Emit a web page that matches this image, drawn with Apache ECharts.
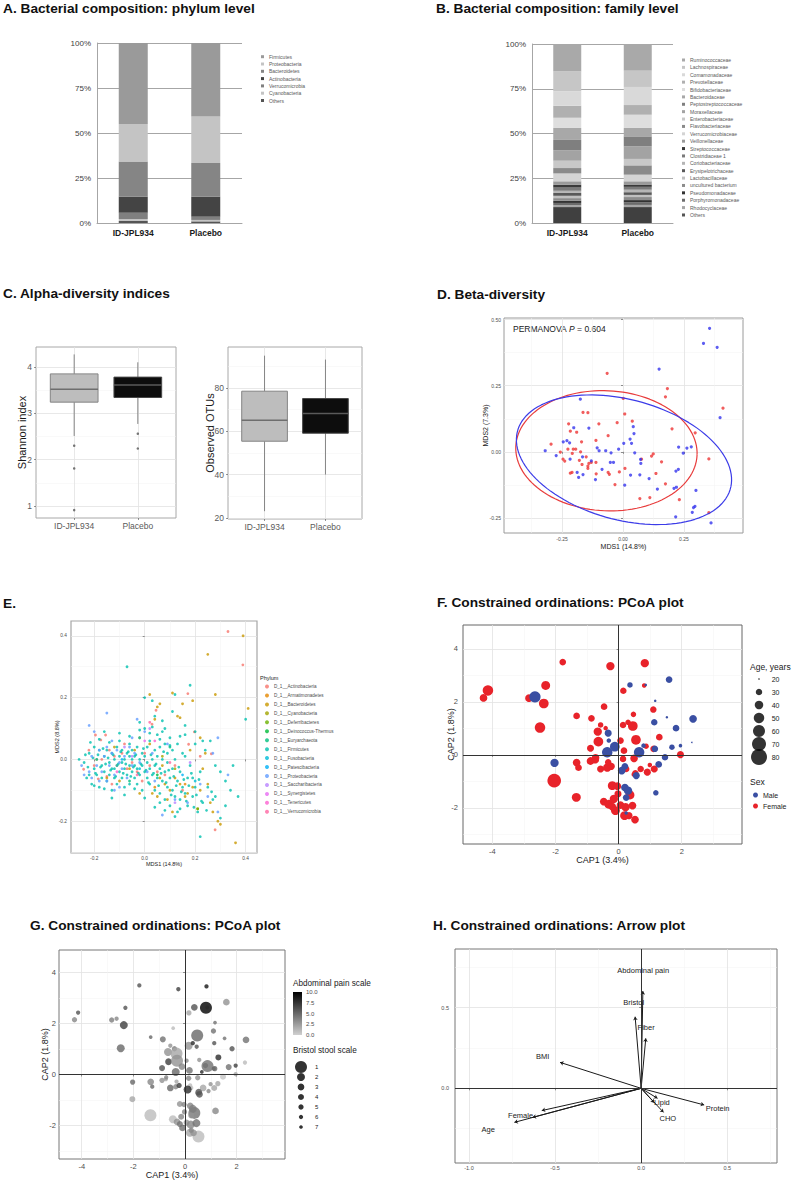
<!DOCTYPE html>
<html>
<head>
<meta charset="utf-8">
<title>Microbiome figure</title>
<script src="https://cdn.jsdelivr.net/npm/echarts@6.0.0/dist/echarts.min.js"></script>
<style>html,body{margin:0;padding:0;background:#fff;}#chart{width:796px;height:1181px;}</style>
</head>
<body>
<div id="chart"></div>
<script>
// ======================= DATA =======================
const groups = ['ID-JPL934', 'Placebo'];

// A. phylum composition (%), series listed bottom -> top of the stack
const phylumNames = ['Others','Cyanobacteria','Verrucomicrobia','Actinobacteria','Bacteroidetes','Proteobacteria','Firmicutes'];
const phylumID = [1.1, 1.1, 3.5, 8.9, 19.5, 20.9, 45.0];
const phylumPL = [0.9, 0.8, 1.8, 11.1, 18.7, 25.8, 40.9];

// B. family composition (%), bottom -> top
const familyNames = ['Others','Rhodocyclaceae','Porphyromonadaceae','Pseudomonadaceae','uncultured bacterium','Lactobacillaceae','Erysipelotrichaceae','Coriobacteriaceae','Clostridiaceae 1','Streptococcaceae','Veillonellaceae','Verrucomicrobiaceae','Flavobacteriaceae','Enterobacteriaceae','Moraxellaceae','Peptostreptococcaceae','Bacteroidaceae','Bifidobacteriaceae','Prevotellaceae','Comamonadaceae','Lachnospiraceae','Ruminococcaceae'];
const familyID = [8.9,1.0,1.3,1.2,1.5,1.3,1.6,1.2,1.8,1.5,2.0,4.4,3.0,4.1,5.8,5.8,6.7,5.7,6.7,8.1,11.1,15.3];
const familyPL = [8.9,1.2,1.4,1.3,1.7,1.2,1.5,1.4,1.6,1.3,1.8,3.7,5.2,3.6,7.0,5.6,4.7,7.4,5.4,10.1,9.1,14.9];

// C. alpha diversity boxplots: [lower whisker, Q1, median, Q3, upper whisker]
const shannonBox = [[2.51,3.24,3.52,3.85,4.27],[2.77,3.34,3.61,3.78,4.10]];
const shannonOutliers = [[1,2.30],[1,1.81],[1,0.91],[2,2.56],[2,2.24]];
const otuBox = [[23.1,55.4,65.1,78.5,94.9],[40.0,59.1,68.2,75.1,93.1]];

// D. beta diversity (MDS1, MDS2)
const betaRed = [[-0.065,0.297],[0.182,0.239],[0.174,0.208],[0.410,0.165],[0.001,0.202],[-0.164,0.149],[-0.144,0.148],[0.007,0.143],[-0.223,0.106],[-0.099,0.106],[-0.024,0.110],[0.038,0.116],[-0.190,0.074],[0.201,0.087],[0.296,0.072],[-0.061,0.061],[-0.295,0.029],[-0.170,0.038],[-0.111,0.043],[-0.257,-0.001],[-0.226,0.010],[-0.204,0.010],[-0.194,0.010],[-0.208,-0.006],[-0.246,-0.028],[-0.239,-0.035],[-0.174,0.000],[-0.179,-0.032],[-0.151,-0.019],[-0.140,-0.044],[-0.144,-0.054],[-0.130,-0.040],[-0.144,-0.063],[-0.111,-0.040],[-0.168,-0.048],[-0.216,-0.081],[-0.209,-0.078],[-0.110,-0.083],[-0.056,-0.085],[-0.061,-0.078],[-0.015,-0.076],[0.008,-0.063],[0.076,-0.028],[0.124,-0.008],[0.117,-0.016],[0.158,-0.038],[0.135,-0.082],[0.174,-0.121],[-0.033,-0.124],[0.069,-0.177],[0.110,-0.173],[0.231,-0.181],[0.352,-0.027],[0.352,-0.230],[-0.216,0.078]];
const betaBlue = [[0.355,0.467],[0.330,0.410],[0.386,0.395],[0.148,0.313],[-0.175,0.199],[-0.140,0.090],[-0.230,0.042],[-0.245,0.038],[-0.219,0.034],[-0.319,0.004],[-0.274,-0.014],[-0.202,0.091],[-0.217,-0.028],[-0.166,-0.019],[-0.106,0.015],[-0.098,0.004],[-0.071,0.004],[-0.049,-0.004],[-0.018,0.010],[0.003,0.032],[0.029,0.048],[0.035,0.032],[0.048,-0.004],[0.042,0.095],[0.045,0.069],[-0.130,-0.034],[-0.052,-0.040],[-0.039,-0.040],[-0.086,-0.066],[-0.188,-0.078],[-0.182,-0.097],[-0.164,-0.086],[-0.113,-0.105],[0.007,-0.126],[0.031,-0.088],[0.073,-0.044],[0.072,-0.029],[0.107,-0.101],[0.141,-0.141],[0.209,-0.138],[0.219,-0.134],[0.217,-0.073],[0.227,-0.066],[0.228,0.018],[0.247,-0.005],[0.262,0.014],[0.280,0.019],[0.299,-0.146],[0.289,-0.211],[0.295,-0.206],[0.284,-0.229],[0.216,-0.246],[0.361,-0.269],[0.398,0.129],[0.069,-0.087]];
// 95% ellipses: [centre x, centre y, semi-axis a, semi-axis b, rotation (deg)]
const ellipseRed = [-0.068, 0.004, 0.372, 0.227, -2.4];
const ellipseBlue = [0.004, -0.030, 0.450, 0.2285, -13.2];
const permanovaP = '0.604';

// E. MDS by phylum
const ePhylumNames = ['D_1__Actinobacteria','D_1__Armatimonadetes','D_1__Bacteroidetes','D_1__Cyanobacteria','D_1__Deferribacteres','D_1__Deinococcus-Thermus','D_1__Euryarchaeota','D_1__Firmicutes','D_1__Fusobacteria','D_1__Patescibacteria','D_1__Proteobacteria','D_1__Saccharibacteria','D_1__Synergistetes','D_1__Tenericutes','D_1__Verrucomicrobia'];
const eActino = [[0.330,0.414],[0.389,0.306],[0.171,0.213],[0.045,0.159],[0.029,0.114],[0.197,0.089],[0.174,0.049],[0.264,0.018],[0.279,-0.228],[-0.242,-0.032],[-0.221,0.030],[-0.195,0.079],[-0.174,0.063],[-0.155,0.079],[-0.184,-0.063],[-0.150,-0.055],[-0.140,0.030],[-0.120,0.010],[-0.110,-0.020],[-0.090,0.020],[-0.070,-0.030],[-0.050,-0.010],[-0.030,-0.040],[-0.010,-0.070],[0.020,-0.020],[0.050,-0.040],[0.080,-0.050],[0.120,-0.020],[0.150,-0.100],[-0.170,0.000],[-0.130,-0.080],[-0.200,-0.020],[0.000,0.020],[-0.080,0.050],[0.220,0.010]];
const eArmat = [[0.160,-0.080],[0.040,-0.090]];
const eBacter = [[0.390,0.400],[0.250,0.340],[0.280,0.210],[0.410,0.165],[0.020,0.210],[0.110,0.215],[0.140,0.135],[0.130,0.140],[0.150,0.180],[0.190,0.190],[0.060,0.180],[0.040,0.130],[0.050,0.170],[0.020,0.050],[-0.020,0.070],[-0.060,-0.030],[0.060,-0.060],[0.080,-0.080],[0.100,-0.100],[0.120,-0.060],[0.140,-0.080],[0.170,-0.110],[0.190,-0.090],[0.220,-0.100],[0.230,-0.030],[0.240,0.020],[0.210,-0.160],[0.270,-0.170],[0.290,-0.200],[0.300,-0.210],[0.360,-0.270],[0.110,-0.170],[0.050,-0.120],[0.030,-0.110],[-0.020,-0.110],[-0.100,-0.070],[-0.150,-0.060],[-0.120,0.040],[-0.190,0.000],[-0.040,0.030],[0.070,-0.020],[0.160,-0.120],[0.090,-0.130],[0.250,-0.080],[0.180,0.030],[0.260,-0.140],[0.220,0.070]];
const eCyano = [[0.120,-0.030],[0.070,0.010]];
const eDeferri = [[0.210,-0.160]];
const eDeino = [[0.050,-0.050]];
const eEury = [[0.100,0.040],[-0.060,-0.070]];
const eFirmi = [[-0.26,0.00],[-0.24,-0.01],[-0.23,-0.06],[-0.22,0.02],[-0.21,-0.08],[-0.20,-0.03],[-0.19,0.00],[-0.19,-0.05],[-0.18,0.03],[-0.18,-0.09],[-0.17,-0.02],[-0.17,-0.06],[-0.16,0.01],[-0.16,-0.04],[-0.16,0.09],[-0.15,-0.07],[-0.15,0.03],[-0.14,-0.01],[-0.14,-0.05],[-0.13,0.02],[-0.13,-0.03],[-0.13,-0.10],[-0.12,0.00],[-0.12,-0.06],[-0.11,0.04],[-0.11,-0.02],[-0.11,-0.08],[-0.10,0.01],[-0.10,-0.04],[-0.10,0.06],[-0.09,-0.01],[-0.09,-0.06],[-0.09,0.03],[-0.08,-0.03],[-0.08,0.00],[-0.08,-0.09],[-0.07,0.02],[-0.07,-0.05],[-0.07,0.30],[-0.06,-0.02],[-0.06,0.05],[-0.06,-0.08],[-0.05,0.00],[-0.05,-0.04],[-0.05,0.03],[-0.04,-0.06],[-0.04,0.01],[-0.04,-0.02],[-0.03,0.04],[-0.03,-0.03],[-0.03,-0.08],[-0.02,0.00],[-0.02,-0.05],[-0.02,0.07],[-0.01,-0.02],[-0.01,0.02],[-0.01,-0.10],[0.00,-0.04],[0.00,0.20],[0.00,0.10],[0.00,0.01],[0.01,-0.06],[0.01,0.04],[0.01,-0.01],[0.02,-0.03],[0.02,0.06],[0.02,-0.08],[0.03,0.00],[0.03,-0.05],[0.03,0.19],[0.04,0.03],[0.04,-0.02],[0.04,-0.10],[0.05,-0.06],[0.05,0.01],[0.05,0.08],[0.06,-0.03],[0.06,-0.11],[0.06,0.04],[0.07,-0.07],[0.07,0.00],[0.07,0.09],[0.08,-0.04],[0.08,-0.13],[0.08,0.05],[0.09,-0.09],[0.09,0.02],[0.09,-0.01],[0.10,-0.06],[0.10,0.07],[0.10,-0.15],[0.11,-0.03],[0.11,-0.10],[0.11,0.03],[0.12,-0.12],[0.12,0.00],[0.12,0.21],[0.13,-0.07],[0.13,0.05],[0.13,-0.17],[0.14,-0.04],[0.14,-0.13],[0.15,-0.09],[0.15,0.02],[0.16,-0.11],[0.16,0.08],[0.17,-0.06],[0.17,-0.15],[0.18,0.24],[0.18,-0.02],[0.19,-0.12],[0.20,0.05],[0.20,-0.09],[0.21,-0.17],[0.22,-0.04],[0.23,-0.14],[0.24,0.03],[0.25,-0.09],[0.26,0.06],[0.27,-0.13],[0.28,-0.02],[0.28,-0.12],[0.30,-0.19],[0.32,-0.07],[0.32,-0.15],[0.35,-0.02],[0.40,0.13],[0.22,-0.25],[0.14,-0.16],[0.06,-0.14],[-0.02,0.12],[0.04,0.14],[0.08,0.10],[-0.20,0.04],[-0.22,-0.05],[0.16,0.01],[0.19,-0.06],[-0.12,-0.03],[-0.06,0.01],[-0.235,0.015],[-0.225,-0.025],[-0.205,0.005],[-0.195,-0.045],[-0.185,0.015],[-0.175,-0.025],[-0.165,0.035],[-0.155,-0.015],[-0.145,0.005],[-0.135,-0.035],[-0.125,0.015],[-0.115,-0.055],[-0.105,-0.015],[-0.095,0.025],[-0.085,-0.045],[-0.075,-0.015],[-0.065,0.025],[-0.055,-0.055],[-0.045,-0.025],[-0.035,0.015],[-0.025,-0.045],[-0.015,-0.015],[-0.005,0.035],[0.005,-0.035],[0.015,-0.075],[0.025,0.015],[0.035,-0.045],[0.045,-0.015],[0.055,-0.085],[0.065,-0.045],[0.075,0.025],[0.085,-0.075],[0.095,-0.035],[0.105,-0.115],[0.115,-0.055],[0.125,-0.085],[0.135,-0.025],[0.145,-0.105],[0.155,-0.065],[0.165,-0.135],[0.175,-0.085],[0.185,-0.045],[0.195,-0.155],[0.205,-0.115],[0.215,-0.065],[0.225,-0.135],[0.245,-0.165],[0.265,-0.105],[-0.215,0.055],[-0.18,0.065],[-0.14,0.055],[-0.10,0.085],[-0.06,0.075],[-0.02,0.095],[0.02,0.085],[0.06,0.065],[0.10,0.045],[0.14,0.075],[-0.13,-0.125],[-0.08,-0.115],[-0.04,-0.095],[0.00,-0.125],[0.04,-0.155],[0.08,-0.165],[0.12,-0.185],[-0.16,-0.095],[-0.20,-0.085],[0.03,0.105],[0.07,0.125],[0.11,0.155],[0.16,0.11],[0.20,0.09],[0.23,0.06],[0.30,-0.04],[0.34,-0.10],[0.37,-0.12]];
const eFuso = [[0.200,-0.070],[-0.020,-0.030]];
const ePates = [[0.150,-0.050],[-0.090,0.000]];
const eProteo = [[-0.22,0.11],[-0.15,0.15],[-0.25,-0.02],[-0.24,-0.05],[-0.22,-0.04],[-0.20,0.09],[-0.21,0.01],[-0.19,-0.02],[-0.18,0.03],[-0.17,-0.04],[-0.16,0.01],[-0.15,0.04],[-0.15,-0.07],[-0.14,-0.02],[-0.13,0.02],[-0.12,-0.05],[-0.11,0.03],[-0.10,-0.01],[-0.09,-0.03],[-0.08,0.01],[-0.07,-0.06],[-0.06,0.04],[-0.05,-0.02],[-0.04,0.02],[-0.03,0.13],[-0.02,-0.01],[0.00,0.09],[0.01,-0.04],[0.03,0.02],[0.07,-0.18],[0.12,-0.13],[0.17,-0.14],[0.22,-0.08],[0.25,-0.12],[0.27,0.02],[0.29,0.07],[0.29,-0.17],[0.33,-0.05],[-0.10,-0.09],[-0.13,0.06],[-0.05,0.07],[0.04,-0.07],[-0.18,-0.07],[-0.21,-0.06],[-0.12,-0.10],[0.09,0.05]];
const eSacch = [[-0.080,0.040],[0.020,0.100],[0.120,-0.140],[-0.050,0.010],[0.180,-0.010]];
const eSyner = [[0.000,0.060]];
const eTener = [[0.040,0.060],[-0.110,-0.040]];
const eVerru = [[0.020,0.120],[-0.030,-0.050],[0.100,-0.010]];
const ePhylumData = [eActino,eArmat,eBacter,eCyano,eDeferri,eDeino,eEury,eFirmi,eFuso,ePates,eProteo,eSacch,eSyner,eTener,eVerru];

// F & G. constrained ordination: same samples in both panels
const capX = [-1.77,-0.26,0.83,-4.14,-4.28,-2.31,-2.84,-2.37,0.15,0.81,-2.49,-0.46,-1.33,-0.86,0.47,1.10,-0.57,-0.66,-0.64,-0.89,-0.41,0.14,0.30,0.45,0.06,0.55,0.87,1.11,1.29,1.96,0.17,0.49,-0.74,-0.89,-1.33,-1.27,-0.57,-0.36,-0.23,0.14,-2.04,-1.34,-0.20,-0.04,0.36,-0.47,-0.31,-0.15,-0.10,0.06,0.22,0.19,0.44,0.52,0.33,0.70,0.53,0.91,0.99,1.13,0.48,-0.33,-0.73,0.24,-0.02,-0.20,-2.65,0.36,1.60,0.86,1.16,1.13,1.53,1.82,2.36,2.32,1.96,1.69,1.15,1.47,1.27,1.18,-0.33,-0.31,-0.36,-0.12,0.65,0.79,-2.03,0.20,0.10,0.56,0.20,0.30,0.24,0.24];
const capY = [3.50,3.35,3.46,2.43,2.15,2.62,2.14,1.94,2.42,2.62,1.03,1.82,1.47,1.38,1.53,1.71,1.13,0.88,0.50,0.25,1.01,1.13,1.23,1.09,0.54,0.57,0.33,0.23,0.67,0.01,0.16,-0.13,-0.18,-0.23,-0.29,-0.48,-0.53,-0.48,-0.43,-0.15,-0.97,-1.60,-1.16,-1.18,-1.51,-1.76,-1.86,-1.66,-2.10,-1.89,-1.97,-2.29,-1.91,-2.44,-2.29,-0.53,-0.69,-0.65,-0.38,-0.53,-0.74,-0.28,-0.11,-0.53,-1.47,-1.95,2.19,2.64,2.84,2.64,2.04,1.23,1.42,1.01,1.36,0.47,0.35,0.29,0.23,-0.09,-0.36,-1.43,0.82,0.54,0.10,0.31,0.10,0.35,-0.30,-0.43,-0.59,-0.78,-1.23,-1.35,-1.61,-2.19];
const ageYears = [31,39,39,50,36,42,36,46,30,26,50,31,31,31,28,30,28,39,46,33,26,30,28,46,31,46,28,31,31,33,31,36,36,36,36,31,33,39,33,30,68,42,42,36,42,36,42,39,42,36,39,42,36,36,33,30,30,33,26,33,26,30,36,30,33,36,55,28,31,22,22,30,22,31,36,19,24,28,30,30,31,28,33,26,50,46,50,26,39,31,36,33,36,39,31,24];
const sexCode = 'FFFFFFFFFFFFFFFFFFFFFFFFFFFFFFFFFFFFFFFFFFFFFFFFFFFFFFFFFFFFFFFFFFMMMMMMMMMMMMMMMMMMMMMMMMMMMMMM'.split('');
const painScore = [6,7,9,6,3.5,6,4,7,2,10,5,1,5,4.5,5,4.5,3,3,7,6,4,3,8,6,3.5,3,4.5,4.5,8,2,4.5,3,2,3,3.5,5,5,3.5,7,3.5,2,1,3,3.5,4.5,1,3,3.5,4.5,3,3.5,2,4.5,1,3,2,6,3.5,3,2,5,2,3.5,1,3.5,4.5,3.5,6,3,8,4.5,6,4.5,6,4.5,1,7,4.5,5,0.5,2,3.5,2,3,5,3.5,8,4.5,5,1,8,6,3.5,4,3,3.5];
const bristolScore = [6,6,6,6,5,6,5,2,5,1,2,7,7,4,1,5,6,2,3,4,5,2,6,6,6,6,1,6,4,6,3,5,6,5,3,6,3,5,5,5,4,1,4,5,1,2,3,4,3,4,2,2,2,1,3,3,3,6,6,4,6,6,6,6,5,4,6,3,3,7,7,6,7,5,3,6,6,4,5,4,5,3,1,1,2,3,7,5,5,6,2,3,3,2,4,5];
const ageLegend = [20,30,40,50,60,70,80];
const sexLegend = ['Male','Female'];
const bristolLegend = [1,2,3,4,5,6,7];
const painRange = [0, 10];
const painTicks = [0, 2.5, 5, 7.5, 10];

// H. arrow plot (arrow tips and label anchors)
const hArrowX = [0.010,-0.035,0.027,-0.471,-0.577,-0.630,-0.736,0.095,0.076,0.130,0.366];
const hArrowY = [0.603,0.444,0.310,0.161,-0.138,-0.180,-0.211,-0.062,-0.089,-0.149,-0.103];
const hLabelText = ['Abdominal pain','Bristol','Fiber','BMI','Female','Age','Lipid','CHO','Protein'];
const hLabelX = [0.012,-0.043,0.029,-0.572,-0.700,-0.888,0.120,0.155,0.444];
const hLabelY = [0.729,0.533,0.376,0.196,-0.171,-0.254,-0.085,-0.184,-0.128];

// ======================= STYLE =======================
const FONT = '"Liberation Sans", Arial, Helvetica, sans-serif';
const PHY_COLORS = ['#555555','#c4c4c4','#808080','#444444','#858585','#c4c4c4','#9a9a9a'];
const FAM_COLORS = ['#404040','#a6a6a6','#6b6b6b','#333333','#8c8c8c','#c0c0c0','#595959','#b5b5b5','#7a7a7a','#3a3a3a','#9a9a9a','#d4d4d4','#8a8a8a','#c8c8c8','#a3a3a3','#7f7f7f','#a8a8a8','#dedede','#b0b0b0','#d9d9d9','#c6c6c6','#a9a9a9'];
const E_COLORS = ['#F8766D','#E58700','#C99800','#A3A500','#6BB100','#00BA38','#00BF7D','#00C0AF','#00BCD8','#00B0F6','#619CFF','#B983FF','#E76BF3','#FD61D1','#FF67A4'];
const AGE_PX = [1.5, 6.5, 8.5, 10.5, 12, 14, 16];
const BRISTOL_PX = [12, 8, 6.7, 6, 5.3, 4.3, 3.7];
const RED_F = '#e8232a', BLUE_F = '#3a4fa3';

function interp(v, xs, ys) {
  if (v <= xs[0]) return ys[0];
  for (let i = 1; i < xs.length; i++) {
    if (v <= xs[i]) { const t = (v - xs[i-1]) / (xs[i] - xs[i-1]); return ys[i-1] + t * (ys[i] - ys[i-1]); }
  }
  return ys[ys.length - 1];
}
const sizeAge = a => interp(a, ageLegend, AGE_PX);
const sizeBristol = b => interp(b, bristolLegend, BRISTOL_PX);

// ======================= BUILD =======================
const grids = [], xAxes = [], yAxes = [], series = [], graphics = [], legends = [];
function addGrid(l, t, w, h, extra) {
  grids.push(Object.assign({left: l, top: t, width: w, height: h, containLabel: false, outerBoundsMode: 'none'}, extra || {}));
  return grids.length - 1;
}
function addX(o) { xAxes.push(o); return xAxes.length - 1; }
function addY(o) { yAxes.push(o); return yAxes.length - 1; }
function text(x, y, s, size, extra) {
  graphics.push({type: 'text', x: x, y: y, silent: true,
    style: Object.assign({text: s, fontSize: size, fontFamily: FONT, fill: '#111', align: 'left', verticalAlign: 'middle'}, extra || {})});
}
function ggAxis(isX, gi, min, max, majors, minors, fmt, fs, margin, name, nameGap, nameFs, labelColor) {
  const prim = {
    type: 'value', gridIndex: gi, min: min, max: max, position: isX ? 'bottom' : 'left',
    axisLine: {show: false},
    axisTick: {show: true, length: 2, lineStyle: {color: '#4d4d4d', width: 0.6}, customValues: majors},
    axisLabel: {customValues: majors, formatter: fmt, fontSize: fs, color: labelColor || '#4d4d4d', margin: margin, fontFamily: FONT},
    splitLine: {show: true, lineStyle: {color: '#e2e2e2', width: 0.8}},
    name: name || '', nameLocation: 'middle', nameGap: nameGap || 0, nameMoveOverlap: false,
    nameTextStyle: {fontSize: nameFs || 8, color: '#1a1a1a', fontFamily: FONT}
  };
  const idx = isX ? addX(prim) : addY(prim);
  if (minors && minors.length) {
    const minor = {
      type: 'value', gridIndex: gi, min: min, max: max, position: isX ? 'top' : 'right',
      axisLine: {show: false}, axisTick: {show: false, customValues: minors}, axisLabel: {show: false},
      splitLine: {show: true, lineStyle: {color: '#f2f2f2', width: 0.5}}
    };
    isX ? addX(minor) : addY(minor);
  }
  return idx;
}
const f0 = v => String(Math.round(v));
const f1 = v => v.toFixed(1);
const f2 = v => v.toFixed(2);
const fGroup = v => groups[Math.round(v) - 1];

// ---------- Titles ----------
const TB = {fontWeight: 'bold', fill: '#111'};
text(3, 8, 'A. Bacterial composition: phylum level', 13.7, TB);
text(436, 8, 'B. Bacterial composition: family level', 13.7, TB);
text(3, 293, 'C. Alpha-diversity indices', 13.7, TB);
text(437, 294, 'D. Beta-diversity', 13.7, TB);
text(3, 603, 'E.', 13.7, TB);
text(437, 602, 'F. Constrained ordinations: PCoA plot', 13.7, TB);
text(30, 925, 'G. Constrained ordinations: PCoA plot', 13.7, TB);
text(433, 925, 'H. Constrained ordinations: Arrow plot', 13.7, TB);

// ---------- A & B stacked bars ----------
function excelPanel(gi, names, vID, vPL, colors, stack, barW, legendLeft, legendTop, legendGap) {
  const xi = addX({type: 'category', gridIndex: gi, data: groups,
    axisLine: {show: true, lineStyle: {color: '#a6a6a6'}}, axisTick: {show: false},
    axisLabel: {fontSize: 8.5, fontWeight: 'bold', color: '#1a1a1a', margin: 5, fontFamily: FONT}});
  const yi = addY({type: 'value', gridIndex: gi, min: 0, max: 100, interval: 25,
    axisLine: {show: true, lineStyle: {color: '#a6a6a6'}}, axisTick: {show: false},
    axisLabel: {formatter: '{value}%', fontSize: 8, color: '#404040', margin: 6, fontFamily: FONT},
    splitLine: {show: true, lineStyle: {color: '#a6a6a6', width: 1}}});
  names.forEach((n, i) => series.push({type: 'bar', name: n, stack: stack, xAxisIndex: xi, yAxisIndex: yi,
    barWidth: barW, data: [vID[i], vPL[i]], itemStyle: {color: colors[i]}}));
  legends.push({data: names.slice().reverse(), orient: 'vertical', left: legendLeft, top: legendTop, padding: 0,
    icon: 'rect', itemWidth: 3, itemHeight: 3, itemGap: legendGap, selectedMode: false,
    textStyle: {fontSize: 5, lineHeight: 5, color: '#595959', fontFamily: FONT}});
}
const gA = addGrid(97, 43, 145, 180);
excelPanel(gA, phylumNames, phylumID, phylumPL, PHY_COLORS, 'phy', 29, 261, 54.2, 2.3);
const gB = addGrid(532, 44, 141, 179);
excelPanel(gB, familyNames, familyID, familyPL, FAM_COLORS, 'fam', 28, 682, 57.5, 2.38);

// ---------- C boxplots ----------
const BOX_FILL = ['#bdbdbd', '#0d0d0d'], BOX_EDGE = ['#858585', '#474747'], BOX_MED = ['#6e6e6e', '#5a5a5a'];
function boxRender(params, api) {
  const i = params.dataIndex;
  const x = api.value(0);
  const w = api.size([0.75, 0])[0];
  const lo = api.coord([x, api.value(1)]), q1 = api.coord([x, api.value(2)]), md = api.coord([x, api.value(3)]),
        q3 = api.coord([x, api.value(4)]), hi = api.coord([x, api.value(5)]);
  const edge = {stroke: BOX_EDGE[i], lineWidth: 1};
  return {type: 'group', children: [
    {type: 'line', shape: {x1: lo[0], y1: lo[1], x2: q1[0], y2: q1[1]}, style: {stroke: '#858585', lineWidth: 1}},
    {type: 'line', shape: {x1: q3[0], y1: q3[1], x2: hi[0], y2: hi[1]}, style: {stroke: '#858585', lineWidth: 1}},
    {type: 'rect', shape: {x: q3[0] - w / 2, y: q3[1], width: w, height: q1[1] - q3[1]}, style: Object.assign({fill: BOX_FILL[i]}, edge)},
    {type: 'line', shape: {x1: md[0] - w / 2, y1: md[1], x2: md[0] + w / 2, y2: md[1]}, style: {stroke: BOX_MED[i], lineWidth: 1.5}}
  ]};
}
const CLBL = '#5a5a5a';
const gC1 = addGrid(36, 347, 140, 171, {show: true, borderColor: '#a8a8a8', borderWidth: 1});
const xC1 = ggAxis(true, gC1, 0.4, 2.6, [1, 2], [], fGroup, 8.5, 3, '', 0, 8, CLBL);
const yC1 = ggAxis(false, gC1, 0.74, 4.43, [1, 2, 3, 4], [1.5, 2.5, 3.5], f0, 8.5, 4, 'Shannon index', 9, 11, CLBL);
series.push({type: 'custom', name: 'shannonBox', xAxisIndex: xC1, yAxisIndex: yC1, renderItem: boxRender,
  data: shannonBox.map((b, i) => [i + 1].concat(b))});
series.push({type: 'scatter', name: 'shannonOut', xAxisIndex: xC1, yAxisIndex: yC1, symbolSize: 2.5,
  itemStyle: {color: '#555'}, data: shannonOutliers});
const gC2 = addGrid(228, 347, 134, 172, {show: true, borderColor: '#a8a8a8', borderWidth: 1});
const xC2 = ggAxis(true, gC2, 0.4, 2.6, [1, 2], [], fGroup, 8.5, 3, '', 0, 8, CLBL);
const yC2 = ggAxis(false, gC2, 19.5, 98.9, [20, 40, 60, 80], [30, 50, 70, 90], f0, 8.5, 4, 'Observed OTUs', 13, 11, CLBL);
series.push({type: 'custom', name: 'otuBox', xAxisIndex: xC2, yAxisIndex: yC2, renderItem: boxRender,
  data: otuBox.map((b, i) => [i + 1].concat(b))});

// ---------- D beta diversity ----------
const gD = addGrid(504, 318, 239, 215, {show: true, borderColor: '#9a9a9a', borderWidth: 1});
const xD = ggAxis(true, gD, -0.488, 0.492, [-0.25, 0, 0.25], [-0.375, -0.125, 0.125, 0.375], f2, 5, 3.5, 'MDS1 (14.8%)', 10, 7);
const yD = ggAxis(false, gD, -0.307, 0.506, [-0.25, 0, 0.25, 0.5], [-0.125, 0.125, 0.375], f2, 5, 3, 'MDS2 (7.3%)', 14.7, 7);
function ellipsePts(p) {
  const pts = [], th = p[4] * Math.PI / 180, n = 120;
  for (let k = 0; k <= n; k++) {
    const t = 2 * Math.PI * k / n;
    const u = p[2] * Math.cos(t), v = p[3] * Math.sin(t);
    pts.push([p[0] + u * Math.cos(th) - v * Math.sin(th), p[1] + u * Math.sin(th) + v * Math.cos(th)]);
  }
  return pts;
}
series.push({type: 'scatter', name: 'betaRed', xAxisIndex: xD, yAxisIndex: yD, symbolSize: 3.2, itemStyle: {color: '#ee3434'}, data: betaRed});
series.push({type: 'scatter', name: 'betaBlue', xAxisIndex: xD, yAxisIndex: yD, symbolSize: 3.2, itemStyle: {color: '#3434ee'}, data: betaBlue});
series.push({type: 'line', name: 'ellipseRed', xAxisIndex: xD, yAxisIndex: yD, showSymbol: false, data: ellipsePts(ellipseRed),
  lineStyle: {color: '#e83c3c', width: 1.2}, itemStyle: {color: '#e83c3c'}});
series.push({type: 'line', name: 'ellipseBlue', xAxisIndex: xD, yAxisIndex: yD, showSymbol: false, data: ellipsePts(ellipseBlue),
  lineStyle: {color: '#3c3ce8', width: 1.2}, itemStyle: {color: '#3c3ce8'}});
text(513, 328.7, 'PERMANOVA {i|P} = ' + permanovaP, 8.5, {fill: '#1a1a1a', rich: {i: {fontStyle: 'italic', fontSize: 8.5, fontFamily: FONT, fill: '#1a1a1a'}}});

// ---------- E MDS by phylum ----------
const gE = addGrid(71, 621, 186, 232, {show: true, borderColor: '#a6a6a6', borderWidth: 1.2});
const xE = ggAxis(true, gE, -0.292, 0.445, [-0.2, 0, 0.2, 0.4], [-0.1, 0.1, 0.3], f1, 4.8, 3, 'MDS1 (14.8%)', 8, 5.5);
const yE = ggAxis(false, gE, -0.303, 0.448, [-0.2, 0, 0.2, 0.4], [-0.3, -0.1, 0.1, 0.3], f1, 4.8, 4, 'MDS2 (8.8%)', 11, 5.5);
ePhylumNames.forEach((n, i) => series.push({type: 'scatter', name: n, xAxisIndex: xE, yAxisIndex: yE, symbolSize: 2.8,
  itemStyle: {color: E_COLORS[i]}, data: ePhylumData[i]}));
text(260, 678, 'Phylum', 5.5, {fill: '#1a1a1a'});
legends.push({data: ePhylumNames, orient: 'vertical', left: 265, top: 684, padding: 0, icon: 'circle',
  itemWidth: 4, itemHeight: 4, itemGap: 3.95, selectedMode: false,
  textStyle: {fontSize: 4.6, lineHeight: 4, color: '#4d4d4d', fontFamily: FONT}});

// ---------- F ordination by age / sex ----------
const zeroLines = {silent: true, symbol: ['none', 'none'], label: {show: false}, animation: false,
  lineStyle: {color: '#333', width: 1, type: 'solid'}, data: [{xAxis: 0}, {yAxis: 0}]};
const gF = addGrid(463, 625, 279, 219, {show: true, borderColor: '#666', borderWidth: 1});
const xF = ggAxis(true, gF, -4.93, 3.91, [-4, -2, 0, 2], [-3, -1, 1, 3], f0, 7.5, 3, 'CAP1 (3.4%)', 11, 9);
const yF = ggAxis(false, gF, -3.36, 4.9, [-2, 0, 2, 4], [-3, -1, 1, 3], f0, 7.5, 5, 'CAP2 (1.8%)', 8, 9);
const idxF = capX.map((_, i) => i).filter(i => sexCode[i] === 'F');
const idxM = capX.map((_, i) => i).filter(i => sexCode[i] === 'M');
series.push({type: 'scatter', name: 'Female', xAxisIndex: xF, yAxisIndex: yF, itemStyle: {color: RED_F, opacity: 1},
  symbolSize: v => sizeAge(v[2]), data: idxF.map(i => [capX[i], capY[i], ageYears[i]]), markLine: zeroLines, z: 3});
series.push({type: 'scatter', name: 'Male', xAxisIndex: xF, yAxisIndex: yF, itemStyle: {color: BLUE_F, opacity: 1},
  symbolSize: v => sizeAge(v[2]), data: idxM.map(i => [capX[i], capY[i], ageYears[i]]), z: 4});
text(750, 667, 'Age, years', 8.5, {fill: '#1a1a1a'});
const gAge = addGrid(752, 672.5, 14, 91);
const xAge = addX({type: 'value', gridIndex: gAge, min: -1, max: 1, show: false});
const yAge = addY({type: 'category', gridIndex: gAge, data: ageLegend.map(String), inverse: true, position: 'right',
  axisLine: {show: false}, axisTick: {show: false}, splitLine: {show: false},
  axisLabel: {fontSize: 7, color: '#1a1a1a', margin: 5.7, fontFamily: FONT}});
series.push({type: 'scatter', name: 'ageKey', xAxisIndex: xAge, yAxisIndex: yAge, itemStyle: {color: '#000'},
  symbolSize: v => sizeAge(v[2]), data: ageLegend.map((a, i) => [0, i, a])});
text(750, 782, 'Sex', 8.5, {fill: '#1a1a1a'});
legends.push({data: sexLegend, orient: 'vertical', left: 753, top: 791.5, padding: 0, icon: 'circle',
  itemWidth: 5, itemHeight: 5, itemGap: 4, selectedMode: false,
  textStyle: {fontSize: 7, lineHeight: 5, color: '#1a1a1a', fontFamily: FONT}});

// ---------- G ordination by pain / Bristol ----------
const gG = addGrid(59, 950, 226, 209, {show: true, borderColor: '#777', borderWidth: 1});
const xG = ggAxis(true, gG, -4.88, 3.87, [-4, -2, 0, 2], [-3, -1, 1, 3], f0, 7.5, 3, 'CAP1 (3.4%)', 11.5, 9);
const yG = ggAxis(false, gG, -3.32, 4.89, [-2, 0, 2, 4], [-3, -1, 1, 3], f0, 7.5, 3, 'CAP2 (1.8%)', 10, 9);
const gSeriesIndex = series.length;
series.push({type: 'scatter', name: 'painBristol', xAxisIndex: xG, yAxisIndex: yG,
  symbolSize: v => sizeBristol(v[3]), data: capX.map((x, i) => [x, capY[i], painScore[i], bristolScore[i]]), markLine: zeroLines});
text(293, 983, 'Abdominal pain scale', 8.2, {fill: '#1a1a1a'});
const gBar = addGrid(293, 992, 9, 43);
const xBar = addX({type: 'value', gridIndex: gBar, min: 0, max: 1, show: false});
const yBar = addY({type: 'value', gridIndex: gBar, min: painRange[0], max: painRange[1], position: 'right',
  axisLine: {show: false}, axisTick: {show: false, customValues: painTicks}, splitLine: {show: false},
  axisLabel: {customValues: painTicks, formatter: f1, fontSize: 6, color: '#4d4d4d', margin: 4, fontFamily: FONT}});
series.push({type: 'custom', name: 'painBar', xAxisIndex: xBar, yAxisIndex: yBar, data: [[0, painRange[1]]],
  renderItem: function (params, api) {
    const p0 = api.coord([0, painRange[1]]), p1 = api.coord([1, painRange[0]]);
    return {type: 'rect', shape: {x: p0[0], y: p0[1], width: p1[0] - p0[0], height: p1[1] - p0[1]},
      style: {fill: new echarts.graphic.LinearGradient(0, 0, 0, 1, [{offset: 0, color: '#000000'}, {offset: 1, color: '#d0d0d0'}])}};
  }});
text(293, 1050, 'Bristol stool scale', 8.2, {fill: '#1a1a1a'});
const gBri = addGrid(295, 1062, 12, 70);
const xBri = addX({type: 'value', gridIndex: gBri, min: -1, max: 1, show: false});
const yBri = addY({type: 'category', gridIndex: gBri, data: bristolLegend.map(String), inverse: true, position: 'right',
  axisLine: {show: false}, axisTick: {show: false}, splitLine: {show: false},
  axisLabel: {fontSize: 6, color: '#1a1a1a', margin: 8, fontFamily: FONT}});
series.push({type: 'scatter', name: 'bristolKey', xAxisIndex: xBri, yAxisIndex: yBri, itemStyle: {color: '#000'},
  symbolSize: v => sizeBristol(v[2]), data: bristolLegend.map((b, i) => [0, i, b])});

// ---------- H arrow plot ----------
const gH = addGrid(455, 949, 322, 214, {show: true, borderColor: '#777', borderWidth: 1});
const xH = ggAxis(true, gH, -1.081, 0.789, [-1, -0.5, 0, 0.5], [-0.75, -0.25, 0.25, 0.75], f1, 5.5, 2);
const yH = ggAxis(false, gH, -0.463, 0.864, [0, 0.5], [-0.25, 0.25, 0.75], f1, 5.5, 6);
series.push({type: 'lines', name: 'arrows', coordinateSystem: 'cartesian2d', xAxisIndex: xH, yAxisIndex: yH,
  symbol: ['none', 'arrow'], symbolSize: 3.5, lineStyle: {color: '#1a1a1a', width: 1, opacity: 1},
  data: hArrowX.map((x, i) => ({coords: [[0, 0], [x, hArrowY[i]]]})), markLine: zeroLines});

// ======================= RENDER =======================
const chart = echarts.init(document.getElementById('chart'), null, {renderer: 'svg', width: 796, height: 1181});
const baseOption = {
  animation: false,
  backgroundColor: '#ffffff',
  textStyle: {fontFamily: FONT},
  grid: grids, xAxis: xAxes, yAxis: yAxes, series: series, legend: legends, graphic: graphics,
  visualMap: [{type: 'continuous', show: false, seriesIndex: gSeriesIndex, dimension: 2, min: painRange[0], max: painRange[1],
    inRange: {color: ['#d0d0d0', '#000000']}}]
};
chart.setOption(baseOption);
// H arrow labels: placed through the H axes' scales
hLabelText.forEach((s, i) => {
  const p = chart.convertToPixel({xAxisIndex: xH, yAxisIndex: yH}, [hLabelX[i], hLabelY[i]]);
  graphics.push({type: 'text', x: p[0], y: p[1], silent: true, z: 50,
    style: {text: s, fontSize: 7.5, fontFamily: FONT, fill: '#1a1a1a', align: 'center', verticalAlign: 'middle'}});
});
chart.setOption({graphic: graphics});
</script>
</body>
</html>
